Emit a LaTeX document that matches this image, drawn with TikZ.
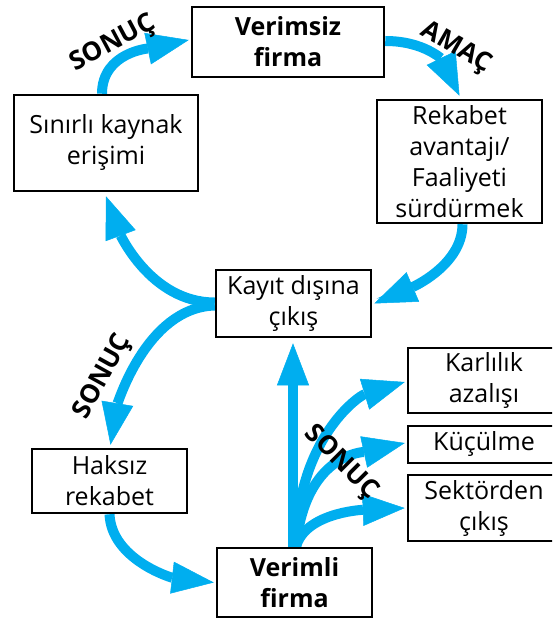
\documentclass[tikz,border=0pt]{standalone}
\usepackage{fontspec}
\setmainfont{Open Sans}
\usetikzlibrary{arrows.meta,calc,backgrounds}
\definecolor{arrc}{RGB}{0,174,239}
\begin{document}
\begin{tikzpicture}[x=1pt,y=-1pt,
  box/.style={draw=black, line width=2.5pt, fill=white, align=center, inner sep=0pt,
              font=\fontsize{25}{31}\selectfont},
  boldbox/.style={box, font=\fontsize{25}{31}\selectfont\bfseries},
  arr/.style={draw=arrc, line width=10pt, -{Triangle[length=42pt,width=32pt,line width=0.5pt]}},
  lab/.style={font=\fontsize{26}{30}\selectfont\bfseries, inner sep=0pt}]
\useasboundingbox (0,0) rectangle (552,620);
\clip (0,0) rectangle (552,620);

% boxes
\node[boldbox, minimum width=192pt, minimum height=70pt] (V1) at (288,42) {Verimsiz\\firma};
\node[box, minimum width=184pt, minimum height=96pt] (S) at (106,143) {Sınırlı kaynak\\erişimi};
\node[box, minimum width=165pt, minimum height=123pt] (R) at (459.5,161.5) {Rekabet\\avantajı/\\Faaliyeti\\sürdürmek};
\node[box, minimum width=155pt, minimum height=67pt] (K) at (293.5,303.5) {Kayıt dışına\\çıkış};
\node[box, minimum width=155pt, minimum height=64pt] (H) at (109.5,481) {Haksız\\rekabet};
\node[boldbox, minimum width=155pt, minimum height=69pt] (VM) at (294.5,582.5) {Verimli\\firma};
\node[box, minimum width=152pt, minimum height=65pt] (Ka) at (484,380.5) {Karlılık\\azalışı};
\node[box, minimum width=152pt, minimum height=37pt] (Ku) at (484,444.5) {Küçülme};
\node[box, minimum width=152pt, minimum height=66pt] (Se) at (484,508) {Sektörden\\çıkış};

% connectors
\begin{scope}[on background layer]
\draw[arr] ($(S.north)+(-4,0)$) .. controls +(0,-42) and +(-38,8) .. ($(V1.west)+(-2,-2)$);
\draw[arr] ($(V1.east)+(0,-1)$) .. controls +(40,0) and +(-17,-35) .. ($(R.north)+(0,-3)$);
\draw[arr] ($(R.south)+(3,0)$) .. controls +(0,42) and +(35,-15) .. ($(K.east)+(2,0)$);
\draw[arr] ($(K.west)+(0,-1)$) .. controls +(-65,0) and +(13,35) .. ($(S.south)+(0,4)$);
\draw[arr] ($(K.west)+(0,2)$) .. controls +(-70,2) and +(6,-36) .. ($(H.north)+(1,-3)$);
\draw[arr] (H.south) .. controls +(2,45) and +(-43,-5) .. ($(VM.west)+(-2,0)$);
\draw[arr] ($(VM.north)+(-1.5,0)$) -- ($(K.south)+(-0.5,5)$);
\draw[arr] ($(VM.north)+(1.5,0)$) .. controls +(1,-108) and +(-46,14) .. ($(Ka.west)+(-2,1.5)$);
\draw[arr] ($(VM.north)+(1.5,0)$) .. controls +(9,-93) and +(-41,9) .. ($(Ku.west)+(-2,-1.5)$);
\draw[arr] ($(VM.north)+(1.5,0)$) .. controls +(9,-33) and +(-46,2) .. ($(Se.west)+(-2,0)$);
\end{scope}

% labels
\node[lab, rotate=28] (L1) at (113,44) {SONUÇ};
\node[lab, rotate=-30] (L2) at (456,48) {AMAÇ};
\node[lab, rotate=61] (L3) at (103,377) {SONUÇ};
\node[lab, rotate=-45] (L4) at (341,463) {SONUÇ};
\end{tikzpicture}
\end{document}
